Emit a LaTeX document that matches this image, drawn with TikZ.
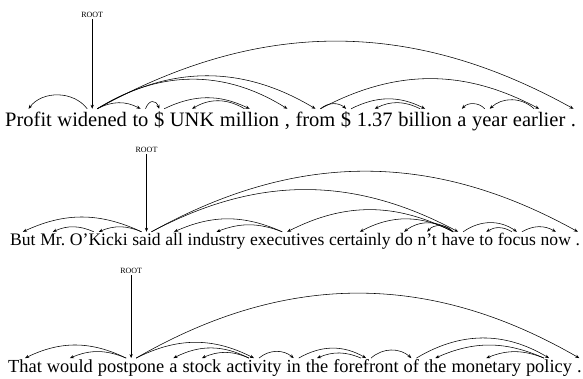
\documentclass[tikz,border=0pt]{standalone}
\usepackage{fontspec}
\setmainfont{Liberation Serif}
\usetikzlibrary{positioning,arrows.meta}

\begin{document}
\begin{tikzpicture}[x=1pt,y=1pt,
    dep/.style={-{Stealth[length=4pt,width=3.2pt]},line width=0.55pt},
    wa/.style={inner sep=0pt,text height=18pt,font=\fontsize{20.5}{24}\selectfont},
    wb/.style={inner sep=0pt,text height=14pt,font=\fontsize{17.6}{21}\selectfont},
    wc/.style={inner sep=0pt,text height=14.4pt,font=\fontsize{18.4}{22}\selectfont},
    rootlbl/.style={inner sep=1.5pt,font=\fontsize{8}{9}\selectfont}]
    \useasboundingbox (0,0) rectangle (583,379);

    \node[wa,anchor=base west] (a1) at (5,252) {Profit};
    \foreach \w [count=\i from 2, remember=\i as \j (initially 1)] in {widened,to,\$,UNK,million,{,},from,\$,1.37,billion,a,year,earlier,.}
      \node[wa,base right=5.2pt of a\j] (a\i) {\w};
    \node[rootlbl,above=90pt of a2] (r1) {ROOT};
    \draw[dep] (r1.south) -- (a2.north);
    \draw[dep] ([xshift=-5pt]a2.north) to[bend right=53] (a1.north);
    \draw[dep] ([xshift=5pt]a2.north) to[bend left=28] (a3.north);
    \draw[dep] ([xshift=5pt]a3.north) to[bend left=70,looseness=1.85] (a4.north);
    \draw[dep] ([xshift=5pt]a4.north) to[bend left=26] (a6.north);
    \draw[dep] ([xshift=-5pt]a6.north) to[bend right=31] (a5.north);
    \draw[dep] ([xshift=5pt]a2.north) to[bend left=32] (a7.north);
    \draw[dep] ([xshift=5pt]a2.north) to[bend left=31] (a8.north);
    \draw[dep] ([xshift=5pt]a2.north) to[bend left=29] (a15.north);
    \draw[dep] ([xshift=5pt]a8.north) to[bend left=41] (a9.north);
    \draw[dep] ([xshift=5pt]a8.north) to[bend left=28] (a14.north);
    \draw[dep] ([xshift=5pt]a9.north) to[bend left=27] (a11.north);
    \draw[dep] ([xshift=-5pt]a11.north) to[bend right=27] (a10.north);
    \draw[dep] ([xshift=-5pt]a13.north) to[bend right=48] (a12.north);
    \draw[dep] ([xshift=-5pt]a14.north) to[bend right=43] (a13.north);

    \node[wb,anchor=base west] (b1) at (10,133) {But};
    \foreach \w [count=\i from 2, remember=\i as \j (initially 1)] in {Mr.,O'Kicki,said,all,industry,executives,certainly,do,n't,have,to,focus,now,.}
      \node[wb,base right=4.3pt of b\j] (b\i) {\w};
    \node[rootlbl,above=77.7pt of b4] (r2) {ROOT};
    \draw[dep] (r2.south) -- (b4.north);
    \draw[dep] ([xshift=-5pt]b4.north) to[bend right=25] (b1.north);
    \draw[dep] ([xshift=-5pt]b3.north) to[bend right=24] (b2.north);
    \draw[dep] ([xshift=-5pt]b4.north) to[bend right=23] (b3.north);
    \draw[dep] ([xshift=5pt]b4.north) to[bend left=29] (b15.north);
    \draw[dep] ([xshift=5pt]b4.north) to[bend left=28] (b11.north);
    \draw[dep] ([xshift=-5pt]b11.north) to[bend right=27] (b7.north);
    \draw[dep] ([xshift=-5pt]b11.north) to[bend right=28] (b8.north);
    \draw[dep] ([xshift=-5pt]b11.north) to[bend right=38] (b9.north);
    \draw[dep] ([xshift=-5pt]b11.north) to[bend right=52] (b10.north);
    \draw[dep] ([xshift=-5pt]b7.north) to[bend right=24] (b5.north);
    \draw[dep] ([xshift=-5pt]b7.north) to[bend right=21] (b6.north);
    \draw[dep] ([xshift=5pt]b11.north) to[bend left=35] (b13.north);
    \draw[dep] ([xshift=-5pt]b13.north) to[bend right=32] (b12.north);
    \draw[dep] ([xshift=5pt]b13.north) to[bend left=30] (b14.north);

    \node[wc,anchor=base west] (c1) at (8,6.3) {That};
    \foreach \w [count=\i from 2, remember=\i as \j (initially 1)] in {would,postpone,a,stock,activity,in,the,forefront,of,the,monetary,policy,.}
      \node[wc,base right=4.6pt of c\j] (c\i) {\w};
    \node[rootlbl,above=83pt of c3] (r3) {ROOT};
    \draw[dep] (r3.south) -- (c3.north);
    \draw[dep] ([xshift=-5pt]c3.north) to[bend right=26] (c1.north);
    \draw[dep] ([xshift=-5pt]c3.north) to[bend right=23] (c2.north);
    \draw[dep] ([xshift=5pt]c3.north) to[bend left=27] (c6.north);
    \draw[dep] ([xshift=5pt]c3.north) to[bend left=30] (c14.north);
    \draw[dep] ([xshift=-5pt]c6.north) to[bend right=27] (c4.north);
    \draw[dep] ([xshift=-5pt]c6.north) to[bend right=24] (c5.north);
    \draw[dep] ([xshift=5pt]c6.north) to[bend left=40] (c7.north);
    \draw[dep] ([xshift=5pt]c7.north) to[bend left=30] (c9.north);
    \draw[dep] ([xshift=-5pt]c9.north) to[bend right=23] (c8.north);
    \draw[dep] ([xshift=5pt]c9.north) to[bend left=42] (c10.north);
    \draw[dep] ([xshift=5pt]c10.north) to[bend left=31] (c13.north);
    \draw[dep] ([xshift=-5pt]c13.north) to[bend right=24] (c11.north);
    \draw[dep] ([xshift=-5pt]c13.north) to[bend right=22] (c12.north);
\end{tikzpicture}
\end{document}
